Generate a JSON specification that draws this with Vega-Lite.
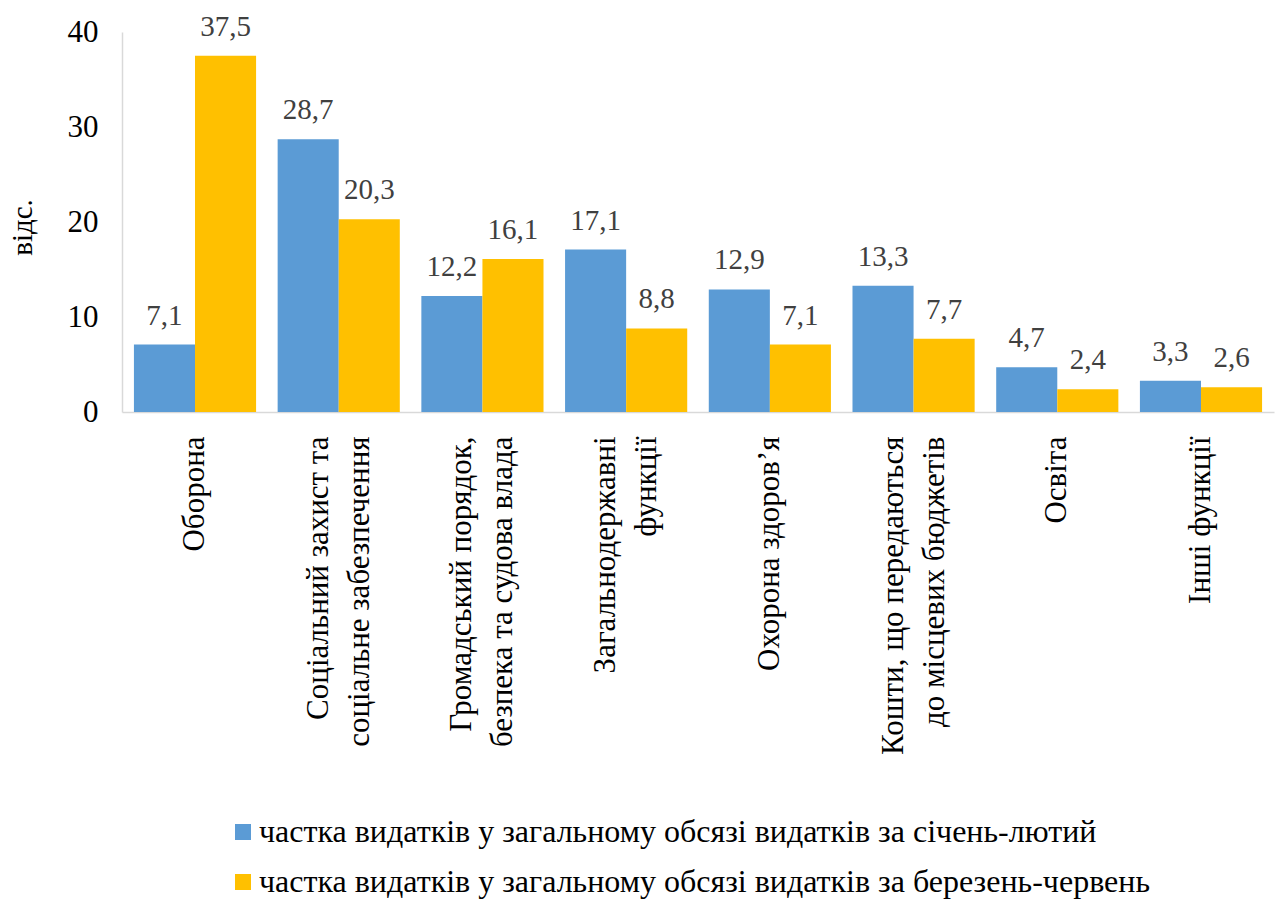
{
  "$schema": "https://vega.github.io/schema/vega-lite/v6.json",
  "autosize": "none",
  "width": 1152,
  "height": 380,
  "padding": {"left": 122, "top": 32, "right": 9, "bottom": 488},
  "config": {
    "view": {"stroke": null},
    "font": "Liberation Serif",
    "axis": {"labelFont": "Liberation Serif", "titleFont": "Liberation Serif"},
    "legend": {"labelFont": "Liberation Serif", "padding": 0},
    "text": {"font": "Liberation Serif"},
    "locale": {"number": {"decimal": ",", "thousands": " ", "grouping": [3], "currency": ["", " ₴"]}}
  },
  "data": {
    "values": [
      {"cat": "Оборона", "series": "частка видатків у загальному обсязі видатків за січень-лютий", "value": 7.1},
      {"cat": "Оборона", "series": "частка видатків у загальному обсязі видатків за березень-червень", "value": 37.5},
      {"cat": "Соціальний захист та|соціальне забезпечення", "series": "частка видатків у загальному обсязі видатків за січень-лютий", "value": 28.7},
      {"cat": "Соціальний захист та|соціальне забезпечення", "series": "частка видатків у загальному обсязі видатків за березень-червень", "value": 20.3},
      {"cat": "Громадський порядок,|безпека та судова влада", "series": "частка видатків у загальному обсязі видатків за січень-лютий", "value": 12.2},
      {"cat": "Громадський порядок,|безпека та судова влада", "series": "частка видатків у загальному обсязі видатків за березень-червень", "value": 16.1},
      {"cat": "Загальнодержавні|функції", "series": "частка видатків у загальному обсязі видатків за січень-лютий", "value": 17.1},
      {"cat": "Загальнодержавні|функції", "series": "частка видатків у загальному обсязі видатків за березень-червень", "value": 8.8},
      {"cat": "Охорона здоров’я", "series": "частка видатків у загальному обсязі видатків за січень-лютий", "value": 12.9},
      {"cat": "Охорона здоров’я", "series": "частка видатків у загальному обсязі видатків за березень-червень", "value": 7.1},
      {"cat": "Кошти, що передаються|до місцевих бюджетів", "series": "частка видатків у загальному обсязі видатків за січень-лютий", "value": 13.3},
      {"cat": "Кошти, що передаються|до місцевих бюджетів", "series": "частка видатків у загальному обсязі видатків за березень-червень", "value": 7.7},
      {"cat": "Освіта", "series": "частка видатків у загальному обсязі видатків за січень-лютий", "value": 4.7},
      {"cat": "Освіта", "series": "частка видатків у загальному обсязі видатків за березень-червень", "value": 2.4},
      {"cat": "Інші функції", "series": "частка видатків у загальному обсязі видатків за січень-лютий", "value": 3.3},
      {"cat": "Інші функції", "series": "частка видатків у загальному обсязі видатків за березень-червень", "value": 2.6}
    ]
  },
  "encoding": {
    "x": {
      "field": "cat", "type": "nominal", "sort": null,
      "scale": {"paddingInner": 0.15, "paddingOuter": 0.083},
      "axis": {
        "title": null, "labelAngle": -90, "labelAlign": "right", "labelBaseline": "middle",
        "labelExpr": "split(datum.label, '|')", "labelLineHeight": 41,
        "labelOffset": {"condition": {"test": "indexof(datum.value, '|') >= 0", "value": -20}, "value": 0},
        "labelFontSize": 31, "labelColor": "#000000", "labelPadding": 24, "labelLimit": 500,
        "labelFont": "Liberation Serif",
        "ticks": false, "domainColor": "#d9d9d9", "domainWidth": 1.5
      }
    },
    "xOffset": {
      "field": "series", "type": "nominal",
      "sort": ["частка видатків у загальному обсязі видатків за січень-лютий", "частка видатків у загальному обсязі видатків за березень-червень"]
    },
    "y": {
      "field": "value", "type": "quantitative",
      "scale": {"domain": [0, 40]},
      "axis": {
        "title": "відс.", "titleFontSize": 29, "titleFontWeight": "normal", "titleColor": "#000000",
        "titleFont": "Liberation Serif", "labelFont": "Liberation Serif",
        "titleAngle": -90, "titleX": -100, "titleY": 195, "titleAlign": "center", "titleBaseline": "middle",
        "values": [0, 10, 20, 30, 40], "grid": false, "ticks": false,
        "labelFontSize": 31, "labelColor": "#000000", "labelPadding": 24,
        "domainColor": "#d9d9d9", "domainWidth": 1.5
      }
    }
  },
  "layer": [
    {
      "mark": {"type": "bar"},
      "encoding": {
        "color": {
          "field": "series", "type": "nominal",
          "scale": {
            "domain": ["частка видатків у загальному обсязі видатків за січень-лютий", "частка видатків у загальному обсязі видатків за березень-червень"],
            "range": ["#5B9BD5", "#FFC000"]
          },
          "legend": {
            "title": null, "orient": "none", "legendX": 105, "legendY": 784,
            "direction": "vertical", "symbolType": "square", "symbolSize": 256,
            "symbolStrokeWidth": 0, "labelFontSize": 32, "labelColor": "#000000",
            "labelFont": "Liberation Serif",
            "labelLimit": 1200, "rowPadding": 18, "labelOffset": 0
          }
        }
      }
    },
    {
      "mark": {"type": "text", "baseline": "alphabetic", "dy": -20, "fontSize": 29, "color": "#404040", "font": "Liberation Serif"},
      "encoding": {
        "text": {"field": "value", "type": "quantitative", "format": ".1f"}
      }
    }
  ]
}
